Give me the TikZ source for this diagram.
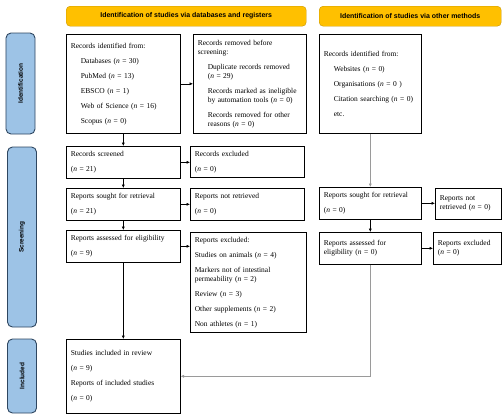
\documentclass[tikz,border=0pt]{standalone}
\usepackage{fontspec}
\setmainfont{Liberation Serif}
\setsansfont{Liberation Sans}
\usepackage{tikz}
\usetikzlibrary{
  arrows.meta,
  calc
}
\definecolor{headyellow}{HTML}{FFC000}
\definecolor{headedge}{HTML}{C99700}
\definecolor{sideblue}{HTML}{9DC3E6}
\definecolor{sideedge}{HTML}{2E4660}
\definecolor{linkgray}{HTML}{9A9A9A}
\newcommand{\ind}{\hspace*{10bp}}
\newcommand{\nx}{\\[6bp]}
\newcommand{\nn}[1]{(\textit{n} = #1)}
\tikzset{
  box/.style n args={2}{
    draw,
    line width=0.6bp,
    anchor=north west,
    align=left,
    inner sep=0pt,
    minimum width=#1,
    minimum height=#2,
    text width=#1-9bp,
    font=\fontsize{7.5}{9}\selectfont},
  head/.style={
    draw=headedge,
    fill=headyellow,
    rounded corners=4bp,
    anchor=north west,
    minimum height=20bp,
    minimum width=#1,
    font=\sffamily\bfseries\fontsize{7}{8}\selectfont},
  side/.style={
    draw=sideedge,
    line width=0.9bp,
    fill=sideblue,
    rounded corners=5bp,
    rotate=90,
    minimum width=#1,
    minimum height=29bp,
    font=\sffamily\bfseries\fontsize{6.5}{7}\selectfont},
  flow/.style={
    -{Latex[length=3.5bp,width=3bp]},
    line width=0.5bp},
  flowgray/.style={
    flow,
    draw=linkgray}
  }
\begin{document}
\begin{tikzpicture}[x=1bp, y=-1bp]
  \useasboundingbox (0,0) rectangle (504,415);
  % headers
  \node[head=240bp] (hdb) at (66,6) {Identification of studies via databases and registers};
  \node[head=182bp] (hoth) at (319,6) {Identification of studies via other methods};
  % phases
  \node[side=101bp] (pid) at (20.5,83.5) {Identification};
  \node[side=180bp] (pscr) at (22,237) {Screening};
  \node[side=74bp] (pinc) at (22,376) {Included};
  % databases and registers
  \node[box={114bp}{99bp}] (ident) at (66,34)
    {Records identified from:\nx
     \ind Databases \nn{30}\nx
     \ind PubMed \nn{13}\nx
     \ind EBSCO \nn{1}\nx
     \ind Web of Science \nn{16}\nx
     \ind Scopus \nn{0}};
  \node[box={113bp}{99bp}] (removed) at (193,34)
    {Records removed before\\
     screening:\nx
     \ind Duplicate records removed\\
     \ind \nn{29}\nx
     \ind Records marked as ineligible\\
     \ind by automation tools \nn{0}\nx
     \ind Records removed for other\\
     \ind reasons \nn{0}};
  \node[box={114bp}{32bp}] (screened) at (66,146)
    {Records screened\nx \nn{21}};
  \node[box={114bp}{31bp}] (excluded) at (190,146)
    {Records excluded\nx \nn{0}};
  \node[box={114bp}{32bp}] (sought) at (66,188)
    {Reports sought for retrieval\nx \nn{21}};
  \node[box={114bp}{32bp}] (notret) at (190,188)
    {Reports not retrieved\nx \nn{0}};
  \node[box={114bp}{32bp}] (assessed) at (66,230)
    {Reports assessed for eligibility\nx \nn{9}};
  \node[box={116bp}{100bp}] (repexcl) at (190,232)
    {Reports excluded:\nx
     Studies on animals \nn{4}\nx
     Markers not of intestinal\\
     permeability \nn{2}\nx
     Review \nn{3}\nx
     Other supplements \nn{2}\nx
     Non athletes \nn{1}};
  \node[box={114bp}{74bp}] (included) at (66,339)
    {Studies included in review\nx
     \nn{9}\nx
     Reports of included studies\nx
     \nn{0}};
  % other methods
  \node[box={102bp}{99bp}] (oident) at (319,34)
    {Records identified from:\nx
     \ind Websites \nn{0}\nx
     \ind Organisations \nn{0 }\nx
     \ind \mbox{Citation searching \nn{0}}\nx
     \ind etc.};
  \node[box={102bp}{32bp}] (osought) at (319,187)
    {Reports sought for retrieval\nx \nn{0}};
  \node[box={66bp}{31bp}] (onotret) at (435,188)
    {Reports not\\ retrieved \nn{0}};
  \node[box={102bp}{32bp}] (oassessed) at (319,232)
    {Reports assessed for\\ eligibility \nn{0}};
  \node[box={68bp}{32bp}] (orepexcl) at (433,232)
    {Reports excluded\\ \nn{0}};
  % connectors
  \draw[flow] (ident) -- (removed);
  \draw[flow] (ident) -- (screened);
  \draw[flow] (screened) -- (sought);
  \draw[flow] (sought) -- (assessed);
  \draw[flow] (assessed) -- (included);
  \draw[flow] (screened.east) -- (screened.east -| excluded.west);
  \draw[flow] (sought.east) -- (sought.east -| notret.west);
  \draw[flow] (assessed.east) -- (assessed.east -| repexcl.west);
  \draw[flowgray] (oident) -- (osought);
  \draw[flow] (osought) -- (oassessed);
  \draw[flow] (osought.east) -- (osought.east -| onotret.west);
  \draw[flow] (oassessed.east) -- (oassessed.east -| orepexcl.west);
  \draw[flowgray] (oassessed) |- (included);
\end{tikzpicture}
\end{document}
